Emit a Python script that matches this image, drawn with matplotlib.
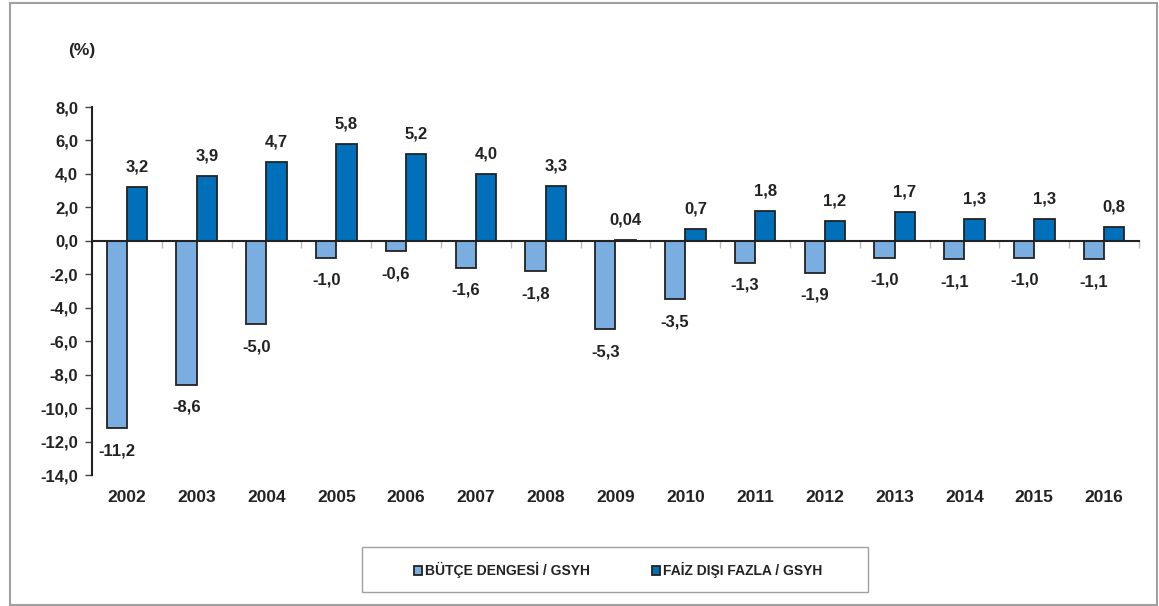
import matplotlib.pyplot as plt
import matplotlib.patches as mpatches
import numpy as np

plt.rcParams['font.family'] = ['Liberation Sans', 'DejaVu Sans']

years = ['2002', '2003', '2004', '2005', '2006', '2007', '2008', '2009',
         '2010', '2011', '2012', '2013', '2014', '2015', '2016']
butce = [-11.2, -8.6, -5.0, -1.0, -0.6, -1.6, -1.8, -5.3,
         -3.5, -1.3, -1.9, -1.0, -1.1, -1.0, -1.1]
faiz = [3.2, 3.9, 4.7, 5.8, 5.2, 4.0, 3.3, 0.04,
        0.7, 1.8, 1.2, 1.7, 1.3, 1.3, 0.8]
butce_lbl = ['-11,2', '-8,6', '-5,0', '-1,0', '-0,6', '-1,6', '-1,8', '-5,3',
             '-3,5', '-1,3', '-1,9', '-1,0', '-1,1', '-1,0', '-1,1']
faiz_lbl = ['3,2', '3,9', '4,7', '5,8', '5,2', '4,0', '3,3', '0,04',
            '0,7', '1,8', '1,2', '1,7', '1,3', '1,3', '0,8']
yticks = np.arange(-14, 9, 2)

W, H = 1159, 606
fig = plt.figure(figsize=(W / 100, H / 100), dpi=100)
ax = fig.add_axes([92 / W, 1 - 475 / H, (1139 - 92) / W, (475 - 107) / H])

light = '#7BAEE0'
dark = '#0070BB'
txt = '#222222'
x = np.arange(len(years))
bw = 0.29
b1 = ax.bar(x - bw / 2, butce, bw, color=light, edgecolor=txt, linewidth=1.3,
            label='BÜTÇE DENGESİ / GSYH', zorder=2)
b2 = ax.bar(x + bw / 2, faiz, bw, color=dark, edgecolor=txt, linewidth=1.3,
            label='FAİZ DIŞI FAZLA / GSYH', zorder=2)

for i in range(len(years)):
    ax.annotate(butce_lbl[i], (x[i] - bw / 2, butce[i]), xytext=(0, -11),
                textcoords='offset points', ha='center', va='top',
                fontsize=12, fontweight='bold', color=txt)
    ax.annotate(faiz_lbl[i], (x[i] + bw / 2, faiz[i]), xytext=(0, 9),
                textcoords='offset points', ha='center', va='bottom',
                fontsize=12, fontweight='bold', color=txt)

ax.set_xlim(-0.5, len(years) - 0.5)
ax.set_ylim(-14, 8)
ax.set_yticks(yticks)
ax.set_yticklabels([('%.1f' % v).replace('.', ',') for v in yticks],
                   fontsize=12, fontweight='bold', color=txt)
ax.tick_params(axis='y', length=5, width=1, color='#444444', pad=5)

# zero line acts as x axis, small grey ticks between the years
ax.spines['top'].set_visible(False)
ax.spines['right'].set_visible(False)
ax.spines['bottom'].set_position(('data', 0))
ax.spines['bottom'].set_color(txt)
ax.spines['bottom'].set_linewidth(1.5)
ax.spines['left'].set_color(txt)
ax.spines['left'].set_linewidth(1.5)
ax.set_xticks(np.arange(-0.5, len(years), 1))
ax.set_xticklabels([])
ax.tick_params(axis='x', length=5, width=1, color='#BBBBBB', direction='out')

for i, yr in enumerate(years):
    ax.text(x[i], -0.06, yr, transform=ax.get_xaxis_transform(), ha='center',
            va='center', fontsize=12.5, fontweight='bold', color=txt)

fig.text(82 / W, 1 - 50 / H, '(%)', ha='center', va='center', fontsize=12.5,
         fontweight='bold', color=txt)

# outer frame + legend box
fig.patches.append(mpatches.Rectangle((10 / W, 1 / H), (1157 - 10) / W, (604 - 2) / H,
                                      transform=fig.transFigure, fill=False,
                                      edgecolor='#A0A0A0', linewidth=1.5))
fig.patches.append(mpatches.Rectangle((362 / W, 1 - 592 / H), (868 - 362) / W, 45 / H,
                                      transform=fig.transFigure, fill=False,
                                      edgecolor='#A0A0A0', linewidth=1))
leg = fig.legend(handles=[b1, b2], loc='center', bbox_to_anchor=(618 / W, 1 - 570 / H),
                 ncol=2, frameon=False, fontsize=10, handlelength=0.6, handleheight=0.6,
                 handletextpad=0.2, columnspacing=4.5)
for t in leg.get_texts():
    t.set_fontweight('bold')
    t.set_color(txt)

plt.savefig('out.png', dpi=100)
